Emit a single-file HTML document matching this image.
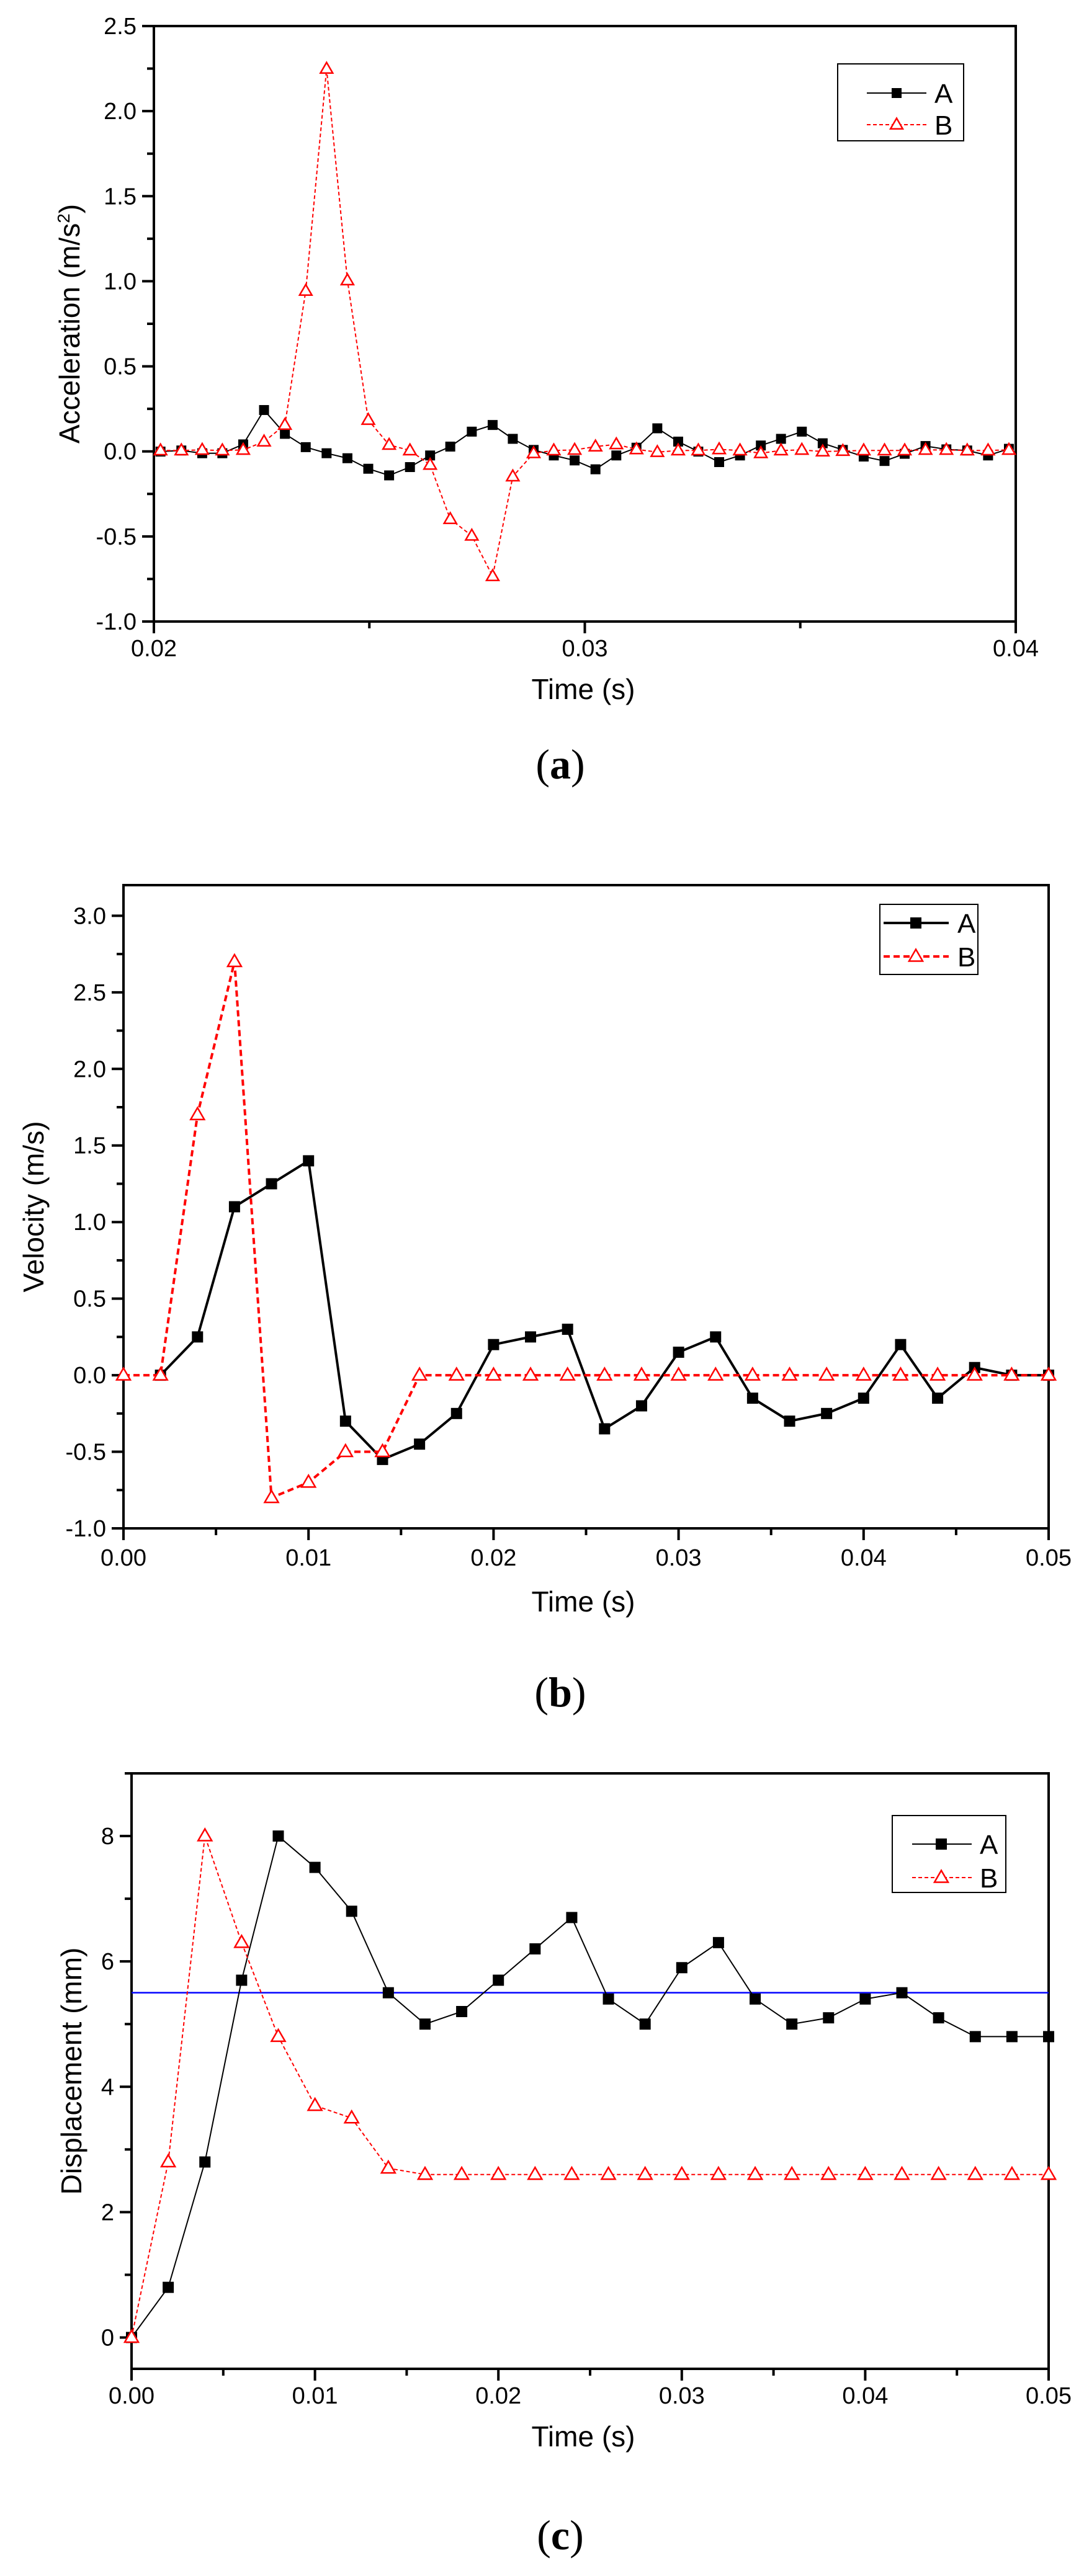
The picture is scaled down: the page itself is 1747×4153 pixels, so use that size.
<!DOCTYPE html>
<html><head><meta charset="utf-8"><style>
html,body{margin:0;padding:0;background:#fff}
svg{display:block}
text{font-family:"Liberation Sans",Arial,sans-serif;fill:#000}
text.cap{font-family:"Liberation Serif",serif}
</style></head><body>
<svg id="s" xmlns="http://www.w3.org/2000/svg" width="1747" height="4153" viewBox="0 0 1747 4153"></svg>
<script>
const S=document.getElementById('s');const NS='http://www.w3.org/2000/svg';
function el(n,a,t){const e=document.createElementNS(NS,n);for(const k in a)e.setAttribute(k,a[k]);if(t!==undefined)e.textContent=t;S.appendChild(e);return e;}
function panel(p){
 const X=v=>p.L+(v-p.x0)/(p.x1-p.x0)*(p.R-p.L);
 const Y=v=>p.B-(v-p.y0)/(p.y1-p.y0)*(p.B-p.T);
 p.X=X;p.Y=Y;
 for(const v of p.xmaj){el('line',{x1:X(v),x2:X(v),y1:p.B,y2:p.B+19,stroke:'#000','stroke-width':4});
   el('text',{x:X(v),y:p.B+p.lb,'font-size':38,'text-anchor':'middle'},p.xfmt(v));}
 for(const v of p.xmin)el('line',{x1:X(v),x2:X(v),y1:p.B,y2:p.B+11,stroke:'#000','stroke-width':4});
 for(const v of p.ymaj){el('line',{x1:p.L-19,x2:p.L,y1:Y(v),y2:Y(v),stroke:'#000','stroke-width':4});
   el('text',{x:p.L-28,y:Y(v)+13,'font-size':38,'text-anchor':'end'},p.yfmt(v));}
 for(const v of p.ymin)el('line',{x1:p.L-11,x2:p.L,y1:Y(v),y2:Y(v),stroke:'#000','stroke-width':4});
 el('rect',{x:p.L,y:p.T,width:p.R-p.L,height:p.B-p.T,fill:'none',stroke:'#000','stroke-width':4});
 el('text',{x:940,y:p.tY,'font-size':46,'text-anchor':'middle'},'Time (s)');
 const cy=(p.T+p.B)/2;
 const yt=el('text',{x:p.yx,y:cy,'font-size':46,'text-anchor':'middle',transform:`rotate(-90 ${p.yx} ${cy})`,dy:16});
 yt.innerHTML=p.ylab;
 el('text',{x:903,y:p.capY,'font-size':68,'text-anchor':'middle','class':'cap'}).innerHTML='(<tspan font-weight="bold">'+p.cap+'</tspan>)';
}
function series(pts,o){
 el('polyline',{points:pts.map(q=>q.join(',')).join(' '),fill:'none',stroke:o.c,'stroke-width':o.w,'stroke-dasharray':o.d||'none'});
 for(const [x,y] of pts)marker(x,y,o);
}
function marker(x,y,o){const r=o.m;
 if(o.sq)el('rect',{x:x-r,y:y-r,width:2*r,height:2*r,fill:'#000'});
 else el('polygon',{points:`${x},${y-r*1.15} ${x-r*1.1},${y+r*0.75} ${x+r*1.1},${y+r*0.75}`,fill:'#fff',stroke:'#f00','stroke-width':2.5});
}
function legend(b,lx1,lx2,mx,ya,yb,tx,oA,oB){
 el('rect',{x:b[0],y:b[1],width:b[2]-b[0],height:b[3]-b[1],fill:'#fff',stroke:'#000','stroke-width':2});
 el('line',{x1:lx1,x2:lx2,y1:ya,y2:ya,stroke:'#000','stroke-width':oA.w});marker(mx,ya,oA);
 el('line',{x1:lx1,x2:lx2,y1:yb,y2:yb,stroke:'#f00','stroke-width':oB.w,'stroke-dasharray':oB.d});marker(mx,yb,oB);
 el('text',{x:tx,y:ya+16,'font-size':44},'A');el('text',{x:tx,y:yb+16,'font-size':44},'B');
}
const rng=(a,b,s)=>{const r=[];for(let v=a;v<=b+1e-9;v+=s)r.push(+v.toFixed(6));return r;};
// Panel a
const pa={L:248,R:1637,T:42,B:1002,lb:56,x0:0.02,x1:0.04,y0:-1,y1:2.5,xmaj:[0.02,0.03,0.04],xmin:[0.025,0.035],
 ymaj:rng(-1,2.5,0.5),ymin:rng(-0.75,2.25,0.5),xfmt:v=>v.toFixed(2),yfmt:v=>v.toFixed(1),tY:1127,yx:112,capY:1255,cap:'a',
 ylab:'Acceleration (m/s<tspan dy="-16" font-size="28">2</tspan><tspan dy="16">)</tspan>'};
panel(pa);
const ax=[231,261,291,320,350,380,410,440,470,500,530,560,590,619,648,679,709,738,768,797,827,857,887,916,946,976,1005,1035,1065,1095,1124,1154,1184,1213,1243,1273,1302,1332,1362,1392,1422,1452];
const aA=[815,813,818,818,802,740,783,807,818,827,846,858,843,822,806,779,767,792,812,822,831,847,822,808,773,797,815,834,822,804,792,779,800,812,824,832,819,805,811,813,822,810];
const aB=[813,813,812,813,812,797,767,525,124,506,758,803,813,839,937,967,1040,860,818,813,812,806,802,811,816,813,813,811,813,818,813,812,815,814,813,813,813,812,812,813,813,812];
const oAa={c:'#000',w:2,m:8,sq:true},oBa={c:'#f00',w:2,m:9,d:'6,4'};
const ay=v=>42+(v/1.114-42)*(1002-42)/(1007-42);
series(ax.map((x,i)=>[x/0.893,ay(aA[i])]),oAa);
series(ax.map((x,i)=>[x/0.893,ay(aB[i])]),oBa);
legend([1350,103,1553,227],1397,1493,1445,150,201,1506,oAa,oBa);
// Panel b
const pb={L:199,R:1690,T:1427,B:2464,lb:60,x0:0,x1:0.05,y0:-1,y1:3.2,xmaj:rng(0,0.05,0.01),xmin:rng(0.005,0.045,0.01),
 ymaj:rng(-1,3,0.5),ymin:rng(-0.75,2.75,0.5),xfmt:v=>v.toFixed(2),yfmt:v=>v.toFixed(1),tY:2598,yx:54,capY:2751,cap:'b',ylab:'Velocity (m/s)'};
panel(pb);
const tb=rng(0,0.05,0.002);
const bA=[0,0,0.25,1.1,1.25,1.4,-0.3,-0.55,-0.45,-0.25,0.2,0.25,0.3,-0.35,-0.2,0.15,0.25,-0.15,-0.3,-0.25,-0.15,0.2,-0.15,0.05,0,0];
const bB=[0,0,1.7,2.7,-0.8,-0.7,-0.5,-0.5].concat(Array(18).fill(0));
const oAb={c:'#000',w:4,m:9,sq:true},oBb={c:'#f00',w:4,m:10,d:'10,6'};
series(tb.slice(1).map((t,i)=>[pb.X(t),pb.Y(bA[i+1])]),oAb);
series(tb.map((t,i)=>[pb.X(t),pb.Y(bB[i])]),oBb);
legend([1418,1458,1576,1571],1424,1529,1476,1488,1542,1543,oAb,oBb);
// Panel c
const pc={L:212,R:1690,T:2859,B:3819,lb:56,x0:0,x1:0.05,y0:-0.5,y1:9,xmaj:rng(0,0.05,0.01),xmin:rng(0.005,0.045,0.01),
 ymaj:[0,2,4,6,8],ymin:[1,3,5,7,9],xfmt:v=>v.toFixed(2),yfmt:v=>String(v),tY:3944,yx:115,capY:4110,cap:'c',ylab:'Displacement (mm)'};
panel(pc);
el('line',{x1:pc.L,x2:pc.R,y1:pc.Y(5.5),y2:pc.Y(5.5),stroke:'#00f','stroke-width':2.5});
const cA=[0,0.8,2.8,5.7,8,7.5,6.8,5.5,5.0,5.2,5.7,6.2,6.7,5.4,5.0,5.9,6.3,5.4,5.0,5.1,5.4,5.5,5.1,4.8,4.8,4.8];
const cB=[0,2.8,8.0,6.3,4.8,3.7,3.5,2.7].concat(Array(18).fill(2.6));
const oAc={c:'#000',w:2,m:9,sq:true},oBc={c:'#f00',w:2,m:10,d:'6,4'};
series(tb.map((t,i)=>[pc.X(t),pc.Y(cA[i])]),oAc);
series(tb.map((t,i)=>[pc.X(t),pc.Y(cB[i])]),oBc);
legend([1438,2927,1621,3051],1470,1566,1517,2973,3027,1579,oAc,oBc);
</script>
</body></html>
